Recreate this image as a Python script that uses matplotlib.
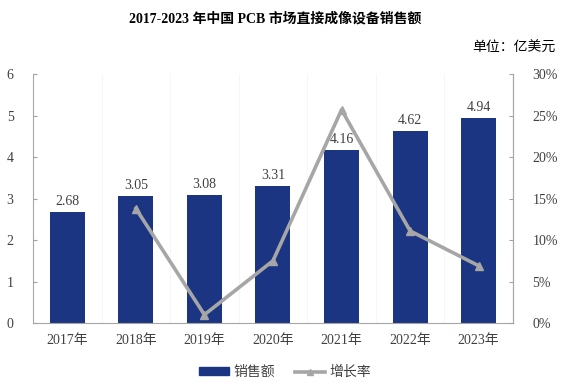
import matplotlib
matplotlib.use("Agg")
import matplotlib.pyplot as plt
from matplotlib.lines import Line2D
from matplotlib.patches import Patch

plt.rcParams['font.family'] = ['Liberation Serif', 'Noto Sans CJK SC', 'DejaVu Sans']

years = ["2017年", "2018年", "2019年", "2020年", "2021年", "2022年", "2023年"]
sales = [2.68, 3.05, 3.08, 3.31, 4.16, 4.62, 4.94]
growth_years = ["2018年", "2019年", "2020年", "2021年", "2022年", "2023年"]
growth = [13.8, 1.0, 7.5, 25.7, 11.1, 6.9]

bar_color = "#1b3582"
line_color = "#a6a6a6"
text_color = "#404040"

fig = plt.figure(figsize=(5.64, 3.88), dpi=100)
ax = fig.add_axes([0.0585, 0.1675, 0.851, 0.6415])
x = list(range(len(years)))
ax.bar(x, sales, width=0.51, color=bar_color, zorder=2)
for xi, v in zip(x, sales):
    ax.text(xi, v + 0.1, f"{v:.2f}", ha="center", va="bottom", fontsize=10, color=text_color, zorder=5)
ax.set_ylim(0, 6)
ax.set_xlim(-0.5, len(years) - 0.5)
ax.set_yticks(range(0, 7))
ax.set_xticks(x)
ax.set_xticklabels(years)
for b in [i + 0.5 for i in range(-1, len(years))]:
    ax.axvline(b, color="#f5f5f5", lw=0.6, zorder=0)
ax.tick_params(axis="y", direction="in", length=3, color="#a0a0a0", labelsize=10, labelcolor=text_color, pad=14)
ax.tick_params(axis="x", length=0, labelsize=10, labelcolor=text_color, pad=8)
ax.spines["top"].set_visible(False)
for s in ["left", "right", "bottom"]:
    ax.spines[s].set_color("#a6a6a6")
    ax.spines[s].set_linewidth(0.8)

ax2 = ax.twinx()
gx = [years.index(y) for y in growth_years]
ax2.plot(gx, growth, color=line_color, lw=2.6, marker="^", markersize=6, zorder=4)
ax2.set_ylim(0, 30)
ax2.set_yticks(range(0, 31, 5))
ax2.set_yticklabels([f"{v}%" for v in range(0, 31, 5)])
ax2.tick_params(axis="y", direction="in", length=3, color="#a0a0a0", labelsize=10, labelcolor=text_color, pad=14)
for s in ["top", "left", "bottom"]:
    ax2.spines[s].set_visible(False)
ax2.spines["right"].set_color("#a6a6a6")
ax2.spines["right"].set_linewidth(0.8)

fig.text(0.488, 0.953, "2017-2023 年中国 PCB 市场直接成像设备销售额", ha="center", va="center",
         fontsize=10, fontweight="bold", color="black")
fig.text(0.985, 0.877, "单位：亿美元", ha="right", va="center", fontsize=10, color="black")

handles = [Patch(color=bar_color), Line2D([0], [0], color=line_color, lw=2.6, marker="^", markersize=4)]
fig.legend(handles, ["销售额", "增长率"], loc="center", bbox_to_anchor=(0.505, 0.04), ncol=2, frameon=False,
           fontsize=10, handlelength=2.2, handleheight=0.5, columnspacing=1.4, handletextpad=0.3,
           labelcolor=text_color)

fig.savefig("out.png", dpi=100)
